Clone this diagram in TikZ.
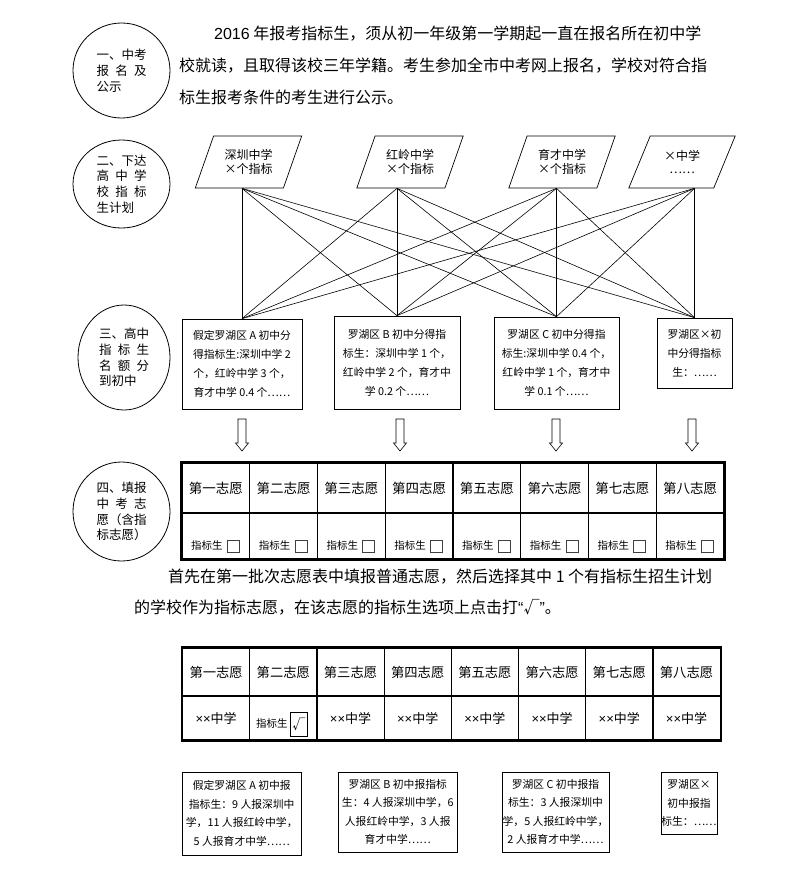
\documentclass[tikz,border=0pt]{standalone}
\usepackage{fontspec}
\setmainfont{Noto Sans CJK SC}
\newfontfamily\latinsans{Liberation Sans}
\usetikzlibrary{shapes.geometric,positioning}

\begin{document}
\begin{tikzpicture}[
x=1pt, y=-1pt,
stage/.style={draw, ellipse, line width=0.8pt, align=left, inner sep=0pt, font=\fontsize{12.5}{15.8}\selectfont},
para/.style={anchor=west, inner sep=0pt, font=\fontsize{16}{18}\selectfont},
plan/.style={draw, trapezium, trapezium left angle=63, trapezium right angle=117, trapezium stretches=true, minimum width=107pt, minimum height=52pt, inner sep=0pt, line width=0.7pt, align=center, font=\fontsize{12}{13.5}\selectfont},
quota/.style={draw, line width=0.7pt, align=center, inner sep=1pt, font=\fontsize{10.8}{19}\selectfont},
report/.style={draw, line width=0.7pt, align=center, inner sep=0.5pt, font=\fontsize{10.8}{18.5}\selectfont},
wish/.style={draw, line width=1.2pt, minimum width=67.75pt, inner sep=0pt, font=\fontsize{13.5}{15}\selectfont},
tag/.style={inner sep=0pt, font=\fontsize{10.5}{12}\selectfont},
chk/.style={draw=darkgray, line width=0.9pt, minimum width=12pt, minimum height=12pt, inner sep=0pt},
link/.style={line width=0.6pt}
]
\useasboundingbox (0,0) rectangle (787,870);

\node[stage, minimum width=97pt, minimum height=95pt] (s1) at (121.5,70.5) {一、中考\\报\enspace 名\enspace 及\\公示};
\node[stage, minimum width=97pt, minimum height=88pt] (s2) at (121.5,184) {二、下达\\高\enspace 中\enspace 学\\校\enspace 指\enspace 标\\生计划};
\node[stage, minimum width=92pt, minimum height=105pt] (s3) at (124,357.5) {三、高中\\指\enspace 标\enspace 生\\名\enspace 额\enspace 分\\到初中};
\node[stage, minimum width=97pt, minimum height=99pt] (s4) at (121.5,511.5) {四、填报\\中\enspace 考\enspace 志\\愿（含指\\标志愿）};

\node[para] (t1) at (214,34) {{\latinsans 2016} 年报考指标生，须从初一年级第一学期起一直在报名所在初中学};
\node[para] (t2) at (179,65.5) {校就读，且取得该校三年学籍。考生参加全市中考网上报名，学校对符合指};
\node[para] (t3) at (179,97) {标生报考条件的考生进行公示。};

\node[plan] (p1) at (248.5,162) {深圳中学\\×个指标};
\node[plan] (p2) at (410,162) {红岭中学\\×个指标};
\node[plan] (p3) at (562,162) {育才中学\\×个指标};
\node[plan] (p4) at (682,162) {×中学\\……};

\node[quota, minimum width=120pt, minimum height=90pt] (b1) at (242,364) {假定罗湖区 A 初中分\\得指标生:深圳中学 2\\个，红岭中学 3 个，\\育才中学 0.4 个……};
\node[quota, minimum width=126pt, minimum height=93pt] (b2) at (397,362.5) {罗湖区 B 初中分得指\\标生：深圳中学 1 个，\\红岭中学 2 个，育才中\\学 0.2 个……};
\node[quota, minimum width=125pt, minimum height=92pt] (b3) at (556.5,363) {罗湖区 C 初中分得指\\标生:深圳中学 0.4 个，\\红岭中学 1 个，育才中\\学 0.1 个……};
\node[quota, minimum width=75pt, minimum height=70pt] (b4) at (694.5,353) {罗湖区×初\\中分得指标\\生：……};

\foreach \i in {1,...,4}
  \coordinate (o\i) at (b\i.north |- p\i.south);
\foreach \i in {1,...,4}
  \foreach \j in {1,...,4}
    \draw[link] (o\i) -- (b\j.north);

\foreach \x in {242,400,556,692}
  \draw[line width=0.6pt] (\x-4,419) -- (\x-4,443) -- (\x-6.5,443) -- (\x,451) -- (\x+6.5,443) -- (\x+4,443) -- (\x+4,419) -- cycle;

\foreach \lab [count=\i] in {第一志愿,第二志愿,第三志愿,第四志愿,第五志愿,第六志愿,第七志愿,第八志愿} {
  \node[wish, minimum height=50pt] (ha\i) at ({182+67.75*(\i-0.5)},488) {\lab};
  \node[wish, minimum height=46pt] (ra\i) at ({182+67.75*(\i-0.5)},536) {};
  \node[tag, anchor=west] (la\i) at ({182+67.75*(\i-1)+9},546) {指标生};
  \node[chk, right=4pt of la\i] (ka\i) {};
}
\draw[line width=2pt] (ha1.north west) rectangle (ra8.south east);

\node[para] (t4) at (168,577) {首先在第一批次志愿表中填报普通志愿，然后选择其中 1 个有指标生招生计划};
\node[para] (t5) at (134,607) {的学校作为指标志愿，在该志愿的指标生选项上点击打{\latinsans “}√{\latinsans ”}。};

\foreach \lab [count=\i] in {第一志愿,第二志愿,第三志愿,第四志愿,第五志愿,第六志愿,第七志愿,第八志愿}
  \node[wish, minimum width=67.2pt, minimum height=48pt, font=\fontsize{13.3}{15}\selectfont] (hb\i) at ({182.5+67.2*(\i-0.5)},672) {\lab};
\foreach \lab [count=\i] in {1,0,1,1,1,1,1,1}
  \node[wish, minimum width=67.2pt, minimum height=44pt, font=\fontsize{13}{15}\selectfont] (rb\i) at ({182.5+67.2*(\i-0.5)},718) {\ifnum\lab=1 {\latinsans ××}中学\fi};
\node[tag, anchor=west] (lb) at (256,724) {指标生};
\node[draw, line width=0.8pt, minimum width=17pt, minimum height=24pt, inner sep=0pt, right=2pt of lb, font=\fontsize{13}{15}\selectfont] (kb) {√};
\draw[line width=2pt] (hb1.north west) rectangle (rb8.south east);

\node[report, minimum width=118.5pt, minimum height=83pt] (c1) at (241.75,813.5) {假定罗湖区 A 初中报\\指标生：9 人报深圳中\\学，11 人报红岭中学，\\5 人报育才中学……};
\node[report, minimum width=119.5pt, minimum height=80pt] (c2) at (397.75,812) {罗湖区 B 初中报指标\\生：4 人报深圳中学，6\\人报红岭中学，3 人报\\育才中学……};
\node[report, minimum width=107pt, minimum height=80pt] (c3) at (555.5,812) {罗湖区 C 初中报指\\标生：3 人报深圳中\\学，5 人报红岭中学，\\2 人报育才中学……};
\node[report, minimum width=54pt, minimum height=62pt] (c4) at (689,803) {罗湖区×\\初中报指\\标生：……};
\end{tikzpicture}
\end{document}
